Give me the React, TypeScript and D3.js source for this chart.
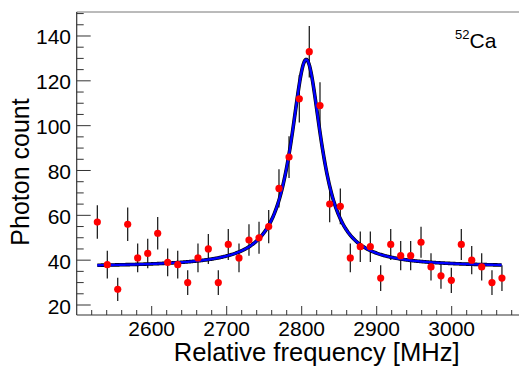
import React from "react";
import * as d3 from "d3";

const frequencies = [
  2527.5, 2540.8, 2554.7, 2568, 2581.3, 2594.7, 2608, 2621.3, 2634.7, 2648,
  2661.7, 2675.5, 2688.8, 2702.1, 2716.4, 2729.7, 2743.1, 2756, 2769.7, 2783.1,
  2796.8, 2810.1, 2824.4, 2837.3, 2851.5, 2864.8, 2878.1, 2891.5, 2905.3, 2918.7,
  2932, 2945.3, 2959.1, 2972.4, 2985.7, 2999.5, 3012.8, 3026.7, 3040, 3053.7, 3067,
];
const counts = [
  57, 38, 27, 56, 41, 43, 52, 39, 38, 30,
  41, 45, 30, 47, 41, 49, 50, 55, 72, 86,
  112, 133, 109, 65, 64, 41, 46, 46, 32, 47,
  42, 42, 48, 37, 33, 31, 47, 40, 37, 30, 32,
];
const errors = [
  7.5, 6.2, 5.2, 7.5, 6.4, 6.6, 7.2, 6.2, 6.2, 5.5,
  6.4, 6.7, 5.5, 6.9, 6.4, 7.0, 7.1, 7.4, 8.5, 9.3,
  10.6, 11.5, 10.4, 8.1, 8.0, 6.4, 6.8, 6.8, 5.7, 6.9,
  6.5, 6.5, 6.9, 6.1, 5.7, 5.6, 6.9, 6.3, 6.1, 5.5, 5.7,
];

// Lorentzian fit parameters
const fitBaseline = 37;
const fitAmplitude = 92.5;
const fitCenter = 2806;
const fitHWHM = 25;

const xMajorTicks = [2600, 2700, 2800, 2900, 3000];
const yMajorTicks = [20, 40, 60, 80, 100, 120, 140];
const xDomain = [2500, 3090];
const yDomain = [15.54, 150.7];

const W = 519;
const H = 367;
const L = 76.7;
const R = 519.2;
const T = 12;
const B = 315;

export default function App() {
  const x = d3.scaleLinear().domain(xDomain).range([L, R]);
  const y = d3.scaleLinear().domain(yDomain).range([B, T]);

  const xMinor = d3.range(2520, 3090, 20).filter((v) => !xMajorTicks.includes(v));
  const yMinor = d3.range(20, 151, 5).filter((v) => !yMajorTicks.includes(v));

  const fit = (f: number) =>
    fitBaseline + fitAmplitude / (1 + ((f - fitCenter) / fitHWHM) ** 2);
  const f0 = frequencies[0];
  const f1 = frequencies[frequencies.length - 1];
  const samples = d3.range(f0, f1 + 0.001, 1);
  const line = d3
    .line<number>()
    .x((f) => x(f))
    .y((f) => y(fit(f)))
    .curve(d3.curveLinear);
  const pathD = line(samples) || "";

  const font = "'Liberation Sans', Arial, Helvetica, sans-serif";
  const axisColor = "#333";

  return (
    <svg
      width={W}
      height={H}
      style={{ position: "absolute", left: 0, top: 0, background: "#fff" }}
      fontFamily={font}
    >
      <rect x={0} y={0} width={W} height={H} fill="#fff" />
      {/* frame */}
      <line x1={L} x2={R} y1={T} y2={T} stroke="#777" strokeWidth={1} />
      <line x1={L} x2={L} y1={T} y2={B} stroke={axisColor} strokeWidth={1.2} />
      <line x1={L} x2={R} y1={B} y2={B} stroke={axisColor} strokeWidth={1.2} />

      {/* y ticks */}
      {yMajorTicks.map((v) => (
        <g key={"ym" + v}>
          <line x1={L} x2={L + 14} y1={y(v)} y2={y(v)} stroke={axisColor} strokeWidth={1} />
          <text x={71} y={y(v) + 8.5} textAnchor="end" fontSize={21} fill="#000">
            {v}
          </text>
        </g>
      ))}
      {yMinor.map((v) => (
        <line key={"yn" + v} x1={L} x2={L + 7} y1={y(v)} y2={y(v)} stroke={axisColor} strokeWidth={1} />
      ))}

      {/* x ticks */}
      {xMajorTicks.map((v) => (
        <g key={"xm" + v}>
          <line x1={x(v)} x2={x(v)} y1={B} y2={B - 9} stroke={axisColor} strokeWidth={1} />
          <text x={x(v)} y={336} textAnchor="middle" fontSize={21} fill="#000">
            {v}
          </text>
        </g>
      ))}
      {xMinor.map((v) => (
        <line key={"xn" + v} x1={x(v)} x2={x(v)} y1={B} y2={B - 5} stroke={axisColor} strokeWidth={1} />
      ))}

      {/* axis titles */}
      <text x={316.7} y={360.5} textAnchor="middle" fontSize={25.6} fill="#000">
        Relative frequency [MHz]
      </text>
      <text
        transform={`translate(28.5, 172) rotate(-90)`}
        textAnchor="middle"
        fontSize={25}
        fill="#000"
      >
        Photon count
      </text>

      {/* error bars */}
      {frequencies.map((f, i) => (
        <line
          key={"e" + i}
          x1={x(f)}
          x2={x(f)}
          y1={y(counts[i] - errors[i])}
          y2={y(counts[i] + errors[i])}
          stroke="#111"
          strokeWidth={1.2}
        />
      ))}

      {/* fit curve */}
      <path d={pathD} fill="none" stroke="#000" strokeWidth={3.6} />
      <path d={pathD} fill="none" stroke="#0000ff" strokeWidth={2.4} />

      {/* points */}
      {frequencies.map((f, i) => (
        <circle key={"p" + i} cx={x(f)} cy={y(counts[i])} r={3.6} fill="#ff0000" />
      ))}

      {/* isotope label */}
      <text x={455} y={48.3} fontSize={21} fill="#000">
        <tspan fontSize={13} dy={-9}>52</tspan>
        <tspan dy={9}>Ca</tspan>
      </text>
    </svg>
  );
}
